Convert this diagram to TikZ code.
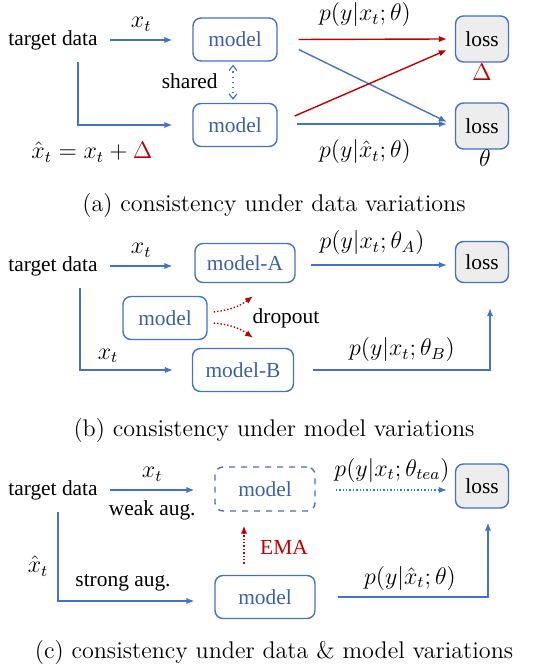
\documentclass[tikz,border=0pt]{standalone}
\usepackage{amsmath,amssymb}
\usepackage{fontspec}
\usepackage{xcolor}
\usepackage{tikz}
\usetikzlibrary{positioning,arrows.meta,calc}
\newfontfamily\tnr{Liberation Serif}
\definecolor{cblue}{HTML}{4472C4}
\definecolor{cred}{HTML}{C00000}
\definecolor{cgray}{HTML}{EDEDED}

\begin{document}
\begin{tikzpicture}[x=0.5pt, y=-0.5pt, >=Latex,
  txt/.style={font=\tnr\fontsize{10.7}{12}\selectfont, inner sep=0pt},
  lbl/.style={font=\fontsize{11.5}{13}\selectfont, inner sep=0pt},
  box/.style={draw=cblue, line width=0.7pt, rounded corners=4pt, text=cblue!85!black,
    font=\tnr\fontsize{10.7}{12}\selectfont, minimum width=42pt, minimum height=21.5pt, inner sep=0pt},
  lossbox/.style={draw=cblue, line width=0.7pt, rounded corners=4pt, fill=cgray,
    font=\tnr\fontsize{10.7}{12}\selectfont, minimum width=26.5pt, minimum height=23pt, inner sep=0pt},
  arr/.style={->, line width=0.7pt, draw=cblue, -{Latex[length=4pt,width=3.2pt]}},
  captxt/.style={font=\fontsize{12.05}{14}\selectfont, inner sep=0pt}]
\useasboundingbox (0,0) rectangle (548,672);
\foreach \y/\n in {40/td1, 266/td2, 490/td3}{
  \node[txt] (\n) at (53,\y) {target data};
}
\foreach \y/\t in {205/{(a) consistency under data variations},
                   430/{(b) consistency under model variations},
                   652/{(c) consistency under data \& model variations}}{
  \node[captxt] at (274,\y) {\t};
}
% (a) data variations
\node[box] (m1) at (235,39.5) {model};
\node[box] (m2) at (235,125) {model};
\node[lossbox] (l1) at (482,39) {loss};
\node[lossbox] (l2) at (482,126) {loss};
\draw[arr] ($(td1.east)+(12,0)$) -- node[lbl, above=4pt]{$x_t$} ($(td1.east -| m1.west)+(-20,0)$);
\draw[arr] ($(td1.south)+(25,12)$) |- ($(m2.west)+(-20,0)$);
\draw[line width=0.6pt, draw=cblue, dotted, {Straight Barb[length=2.5pt,width=4pt]}-{Straight Barb[length=2.5pt,width=4pt]}]
  ($(m1.south)+(-2,3)$) -- ($(m2.north)+(-2,-3)$);
\node[txt, anchor=east] (sh) at (218,81) {shared};
\draw[arr, draw=cred] ($(m1.east)+(21,0)$) -- ($(l1.west)+(-8,0)$);
\draw[arr] ($(m1.east)+(21,10)$) -- ($(l2.west)+(-8,-4)$);
\draw[arr, draw=cred] ($(m2.east)+(17,-9)$) -- ($(l1.west)+(-8,11)$);
\draw[arr] ($(m2.east)+(19,-1)$) -- ($(l2.west)+(-8,-2)$);
\node[lbl] (pa1) at (365,15) {$p(y|x_t;\theta)$};
\node[lbl] (pa2) at (365,152) {$p(y|\hat{x}_t;\theta)$};
\node[lbl] (xa) at (92,152) {$\hat{x}_t=x_t+\textcolor{cred}{\Delta}$};
\node[lbl, text=cred] (da) at (482,72) {$\Delta$};
\node[lbl] (ta) at (485,158) {$\theta$};
% (b) model variations
\node[box, minimum width=50pt, minimum height=19.5pt] (ma) at (245,263) {model-A};
\node[box, minimum width=50.5pt] (mb) at (243,370) {model-B};
\node[box] (ms) at (165,318) {model};
\node[lossbox, minimum height=20.5pt] (lb) at (482,262) {loss};
\draw[arr] ($(td2.east)+(12,0)$) -- node[lbl, above=4pt]{$x_t$} ($(td2.east -| ma.west)+(-22,0)$);
\draw[arr] ($(ma.east)+(15,2)$) -- ($(ma.east -| lb.west)+(-8,2)$);
\draw[arr] ($(td2.south)+(27,12)$) |- ($(mb.west)+(-19,0)$);
\draw[arr, draw=cred, densely dotted] ($(ms.east)+(6,-6)$) to[bend right=15] ($(ma.south)+(8,13)$);
\draw[arr, draw=cred, densely dotted] ($(ms.east)+(6,5)$) to[bend left=15] ($(mb.north)+(10,-10)$);
\node[txt] (dr) at (286,318) {dropout};
\draw[arr] ($(mb.east)+(19,0)$) -| ($(lb.south)+(8,25)$);
\node[lbl] (xb1) at (108,356) {$x_t$};
\node[lbl] (pb1) at (372,243) {$p(y|x_t;\theta_A)$};
\node[lbl] (pb2) at (402,350) {$p(y|x_t;\theta_B)$};
% (c) data & model variations
\node[box, dashed, minimum width=50pt, minimum height=22pt] (md) at (265,489) {model};
\node[box, minimum width=50pt, minimum height=21.5pt] (mc) at (265,597) {model};
\node[lossbox, minimum height=22pt] (lc) at (482,486) {loss};
\draw[arr] ($(td3.east)+(12,0)$) -- node[lbl, above=4pt]{$x_t$}
  node[txt, below=5pt]{weak aug.} ($(td3.east -| md.west)+(-20,0)$);
\draw[arr, densely dotted] ($(md.east)+(20,1)$) -- ($(md.east -| lc.west)+(-8,1)$);
\draw[arr, draw=cred, densely dotted] ($(mc.north)+(-21,-11)$) -- ($(md.south)+(-21,14)$);
\node[txt, text=cred] (ema) at (284,547) {EMA};
\draw[arr] ($(td3.south)+(5,12)$) |- ($(mc.west)+(-20,4)$);
\node[lbl] (xc) at (38,566) {$\hat{x}_t$};
\node[txt] (sa) at (123,583) {strong aug.};
\draw[arr] ($(mc.east)+(22,0)$) -| ($(lc.south)+(6,14)$);
\node[lbl] (pc1) at (392,470) {$p(y|x_t;\theta_{tea})$};
\node[lbl] (pc2) at (410,578) {$p(y|\hat{x}_t;\theta)$};
\end{tikzpicture}
\end{document}
